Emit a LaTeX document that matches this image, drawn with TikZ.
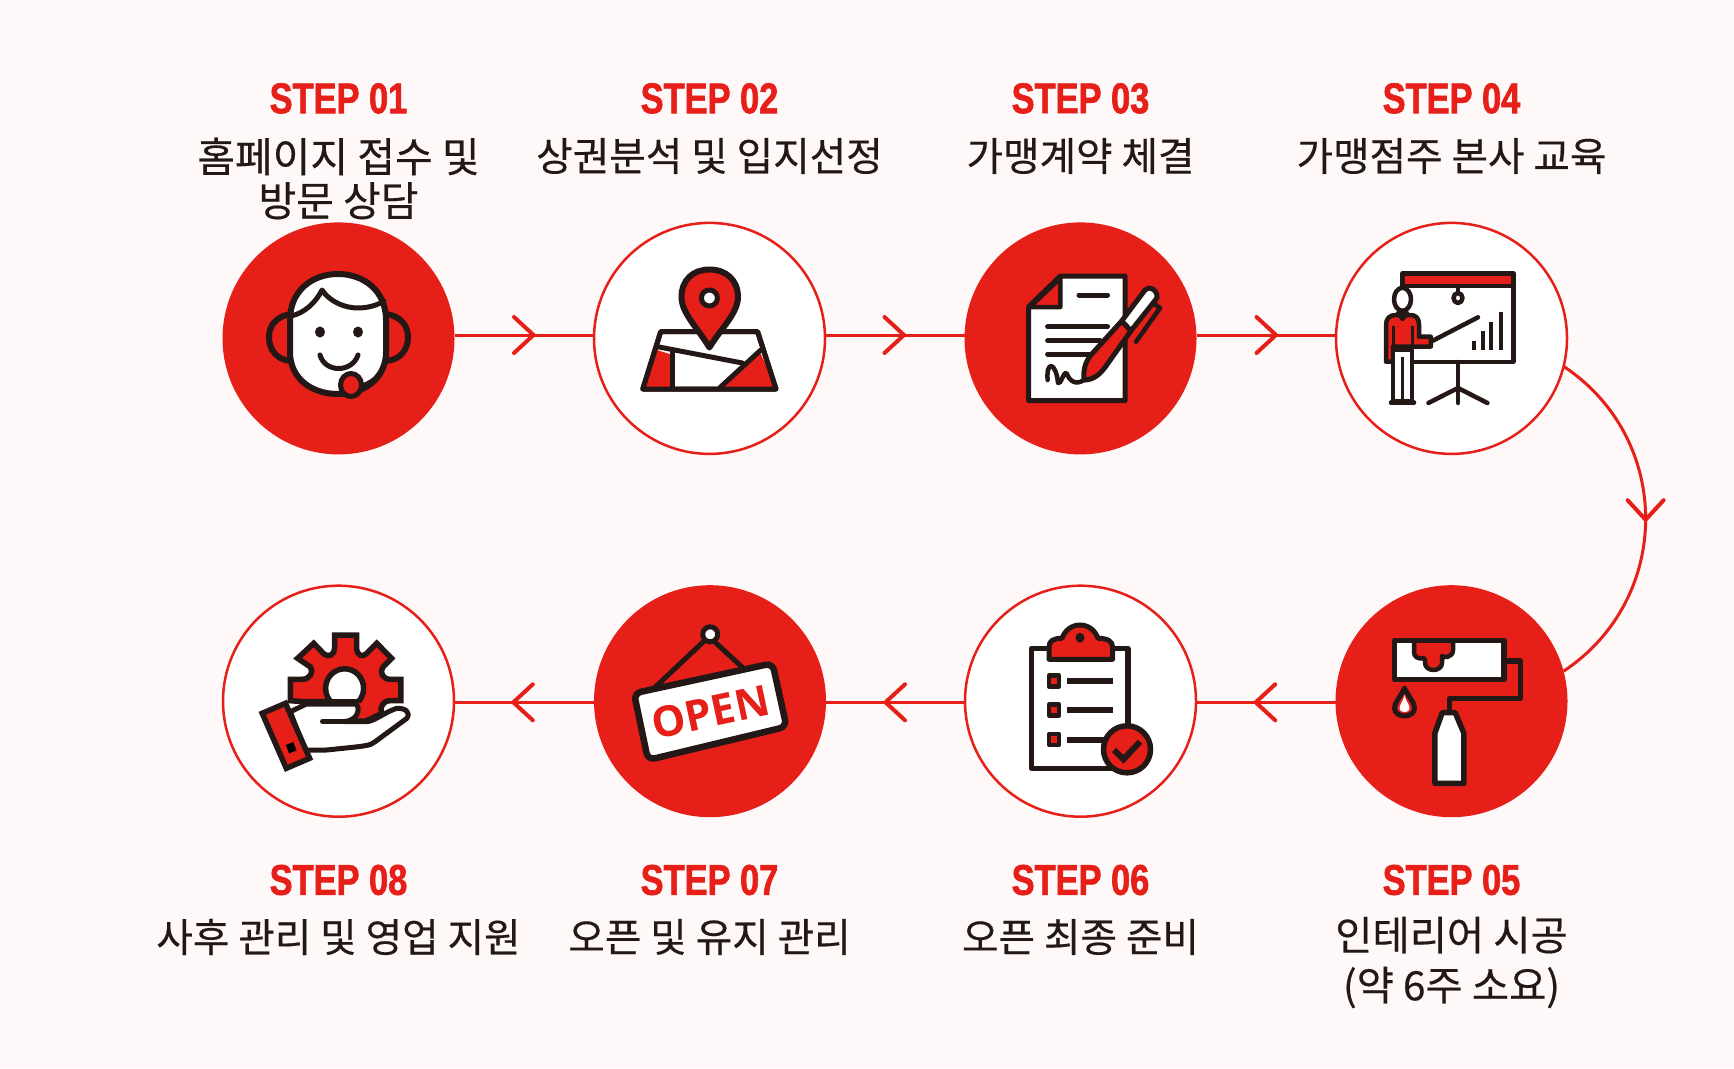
\documentclass[tikz,border=0pt]{standalone}
\usepackage{fontspec}
\newfontfamily\stepfont[FakeStretch=0.8,FakeBold=1.4]{Liberation Sans}
\newfontfamily\krfont{Noto Sans CJK KR}[FakeBold=0.45]
\newfontfamily\signfont{Open Sans}
\definecolor{brand}{HTML}{E61F19}
\definecolor{ink}{HTML}{231815}
\definecolor{paper}{HTML}{FFF8F8}
\tikzset{
  solid disc/.style={circle,fill=brand,inner sep=0pt,outer sep=0pt,minimum size=232pt},
  open disc/.style={circle,fill=white,draw=brand,line width=2.5pt,inner sep=0pt,outer sep=0pt,minimum size=231pt},
  steptitle/.style={text=brand,font=\stepfont\bfseries\fontsize{43}{43}\selectfont,inner sep=0pt},
  steptext/.style={text=ink,align=center,inner sep=0pt,font=\krfont\fontsize{39.7}{44}\selectfont},
  conn/.style={draw=brand,line width=3pt},
  ic/.style={draw=ink,line width=5pt,line join=round,line cap=round},
  thin ic/.style={draw=ink,line width=4.5pt,line join=round,line cap=round},
  pics/chevron/.style={code={\draw[draw=brand,line width=4pt,line cap=round,line join=miter] (-19.5,-18) -- (0,0) -- (-19.5,18);}}
}
\begin{document}
\begin{tikzpicture}[x=1pt,y=-1pt]
\useasboundingbox (0,0) rectangle (1734,1068);
\fill[paper] (0,0) rectangle (1734,1068);

% step discs
\node[solid disc] (s1) at (338.5,338.4) {};
\node[open disc]  (s2) at (709.5,338.4) {};
\node[solid disc] (s3) at (1080.5,338.4) {};
\node[open disc]  (s4) at (1451.5,338.4) {};
\node[solid disc] (s5) at (1451.5,701.2) {};
\node[open disc]  (s6) at (1080.5,701.2) {};
\node[solid disc] (s7) at (710,701.2) {};
\node[open disc]  (s8) at (338.5,701.2) {};

% arrowhead positions along the connectors
\coordinate (a1) at (533.5,335);
\coordinate (a2) at (904,335);
\coordinate (a3) at (1276,335);
\coordinate (a4) at (1645.6,519.7);
\coordinate (a5) at (1255.7,702.3);
\coordinate (a6) at (885.5,702.3);
\coordinate (a7) at (513.3,702.3);

% connectors
\draw[conn] (s1.east |- a1) -- (s2.west |- a1);
\draw[conn] (s2.east |- a2) -- (s3.west |- a2);
\draw[conn] (s3.east |- a3) -- (s4.west |- a3);
\draw[conn] (s4.-14) .. controls (1673.5,439.4) and (1672.5,599) .. (s5.15);
\draw[conn] (s5.west |- a5) -- (s6.east |- a5);
\draw[conn] (s6.west |- a6) -- (s7.east |- a6);
\draw[conn] (s7.west |- a7) -- (s8.east |- a7);

\pic at (a1) {chevron};
\pic at (a2) {chevron};
\pic at (a3) {chevron};
\pic[rotate=-90] at (a4) {chevron};
\pic[rotate=180] at (a5) {chevron};
\pic[rotate=180] at (a6) {chevron};
\pic[rotate=180] at (a7) {chevron};

% labels
\node[steptitle] (t1) at (338.5,98.4) {STEP 01};
\node[steptitle] (t2) at (709.5,98.4) {STEP 02};
\node[steptitle] (t3) at (1080.5,98.4) {STEP 03};
\node[steptitle] (t4) at (1451.5,98.4) {STEP 04};
\node[steptitle] (t5) at (1451.5,880) {STEP 05};
\node[steptitle] (t6) at (1080.5,880) {STEP 06};
\node[steptitle] (t7) at (709.5,880) {STEP 07};
\node[steptitle] (t8) at (338.5,880) {STEP 08};
\node[steptext,font=\krfont\fontsize{41}{44}\selectfont] (l1) at (338.5,178.5) {홈페이지 접수 및\\방문 상담};
\node[steptext] (l2) at (709.5,156) {상권분석 및 입지선정};
\node[steptext] (l3) at (1080.5,156) {가맹계약 체결};
\node[steptext] (l4) at (1451.5,156) {가맹점주 본사 교육};
\node[steptext,font=\krfont\fontsize{40.5}{50}\selectfont] (l5) at (1451.5,962.5) {인테리어 시공\\(약 6주 소요)};
\node[steptext] (l6) at (1080.5,937) {오픈 최종 준비};
\node[steptext] (l7) at (709.5,937) {오픈 및 유지 관리};
\node[steptext] (l8) at (338.5,937) {사후 관리 및 영업 지원};

% icon: call agent with headset
\draw[ic,line width=6pt,fill=brand] (291,314) .. controls (277,316) and (269,325) .. (269,337) .. controls (269,350) and (277,360) .. (291,361);
\draw[ic,line width=6pt,fill=brand] (386,314) .. controls (400,316) and (408,325) .. (408,337) .. controls (408,350) and (400,360) .. (386,361);
\draw[ic,line width=6pt,fill=white] (290,320) .. controls (290,291) and (312,274) .. (338,274) .. controls (364,274) and (386,291) .. (386,320) -- (386,352) .. controls (386,378) and (365,394) .. (338,394) .. controls (311,394) and (290,378) .. (290,352) -- cycle;
\draw[ic] (291,316) .. controls (305,313) and (316,302) .. (322,290) .. controls (330,302) and (345,308) .. (358,308) .. controls (368,308) and (378,305) .. (384,301);
\fill[ink] (320,332) ellipse (5pt and 5.5pt);
\fill[ink] (358,332) ellipse (5pt and 5.5pt);
\draw[ic] (320,355) .. controls (325,373) and (352,373) .. (358,355);
\draw[thin ic] (351,387) .. controls (368,387) and (379,378) .. (383,366);
\draw[ic,fill=brand] (351,385) ellipse (10.5pt and 11.5pt);

% icon: map with location pin
\draw[ic,fill=white] (660.7,331.7) -- (757.6,331.7) -- (776,389) -- (642.8,389) -- cycle;
\fill[brand] (657,350) -- (672.7,355) -- (672.7,389) -- (643,389) -- cycle;
\fill[brand] (760,352) -- (776,389) -- (719.5,389) -- cycle;
\draw[ic] (657.5,346.7) -- (742.4,363);
\draw[ic] (672.7,353) -- (672.7,389);
\draw[ic] (760.8,350) -- (719.5,388);
\draw[ic] (660.7,331.7) -- (757.6,331.7) -- (776,389) -- (642.8,389) -- cycle;
\draw[ic,line width=6pt,fill=brand] (709.4,347.5) .. controls (697,327) and (681.5,313) .. (681.5,297) .. controls (681.5,280) and (693,269.5) .. (709.4,269.5) .. controls (726,269.5) and (738,280) .. (738,297) .. controls (738,313) and (722,327) .. (709.4,347.5) -- cycle;
\draw[ic,fill=white] (709.4,298) circle (8pt);

% icon: contract and pen
\draw[ic,fill=white] (1060.3,276) -- (1125,276) -- (1125,400.7) -- (1028.7,400.7) -- (1028.7,306.7) -- cycle;
\draw[ic,fill=brand,line width=4.5pt] (1060.3,278) -- (1060.3,307) -- (1030,307) -- cycle;
\draw[ic] (1079,295) -- (1107.5,295);
\draw[ic] (1047.6,326.7) -- (1107.5,326.7);
\draw[ic] (1047.6,340.7) -- (1100,340.7);
\draw[ic] (1047.6,354) -- (1091,354);
\draw[thin ic] (1047.6,380) .. controls (1046,360) and (1056,362) .. (1058,383) .. controls (1061,385) and (1063,372) .. (1066.5,373) .. controls (1069,380) and (1075,386) .. (1084,380);
\draw[ic,fill=brand] (1084,380) .. controls (1083,368) and (1086,362) .. (1090,356) -- (1121.7,321) -- (1131,330.7) -- (1106,366) .. controls (1099,376) and (1092,380) .. (1084,380) -- cycle;
\draw[ic,fill=white] (1121.7,321) -- (1145,290) .. controls (1149,285) and (1158,290) .. (1157,298) -- (1131,330.7) -- cycle;
\draw[thin ic] (1136,341.7) -- (1160,308);
\draw[thin ic] (1153,303) -- (1160,308);

% icon: presenter at a board
\fill[brand] (1402.5,273.3) rectangle (1513.4,286);
\draw[thin ic] (1402.5,361.7) -- (1402.5,273.3) -- (1513.4,273.3) -- (1513.4,361.7) -- cycle;
\fill[white] (1404.7,288) rectangle (1511.2,359.5);
\draw[thin ic] (1402.5,286) -- (1513.4,286);
\draw[thin ic] (1458,287) -- (1458,292);
\draw[thin ic,fill=white] (1458,298) ellipse (4.5pt and 5pt);
\draw[thin ic] (1458,362) -- (1458,403);
\draw[thin ic] (1428.4,403) -- (1458,388) -- (1487.4,403);
\foreach \bx/\by in {1474/340.7,1482.7/330.7,1491/321.7,1500.6/311.7}
  \draw[draw=ink,line width=4pt] (\bx,\by) -- (\bx,350);
\draw[thin ic] (1430.8,341.7) -- (1478,317.3);
\draw[thin ic,fill=brand] (1386,361.7) -- (1386,325) .. controls (1386,318) and (1390,315) .. (1396,315) -- (1410,315) .. controls (1416,315) and (1419,318) .. (1419,325) -- (1419,336.7) -- (1430.8,336.7) -- (1430.8,346.5) -- (1393,346.5) -- (1393,361.7) -- cycle;
\draw[thin ic,fill=white] (1393,350) rectangle (1412,401.7);
\draw[draw=ink,line width=3pt] (1393,326) -- (1393,350);
\draw[draw=ink,line width=3pt] (1412,326) -- (1412,346);
\draw[draw=ink,line width=3pt] (1402.5,356.7) -- (1402.5,401.7);
\draw[thin ic] (1391,402.7) -- (1414,402.7);
\draw[thin ic,fill=white] (1402.5,299.3) ellipse (8.5pt and 11.5pt);
\draw[thin ic,fill=white] (1398,313) -- (1407,313) -- (1402.5,319) -- cycle;

% icon: paint roller
\draw[ic,line width=5.5pt,fill=white] (1394.5,640.7) rectangle (1504.2,679.3);
\draw[ic,fill=brand,line width=4.5pt] (1414,643) -- (1414,652) .. controls (1414,657) and (1418,659) .. (1423,658.3) .. controls (1425,658) and (1425,658) .. (1425,663) .. controls (1425,667) and (1429,670) .. (1433.5,670) .. controls (1438,670) and (1442,667) .. (1442,663) -- (1442,656) .. controls (1443,658) and (1453,658) .. (1453,650) -- (1453,643);
\draw[ic,line width=5.5pt,fill=none] (1504,661) -- (1520.3,661) -- (1520.3,698.3) -- (1449.5,698.3) -- (1449.5,711.7);
\draw[ic,line width=5.5pt,fill=white] (1442.2,712.7) -- (1455.2,712.7) -- (1463.9,733.3) -- (1463.9,783.3) -- (1434.8,783.3) -- (1434.8,733.3) -- cycle;
\draw[ic,fill=none] (1404.5,688) .. controls (1400,698) and (1394.5,702) .. (1394.5,708) .. controls (1394.5,713) and (1399,716) .. (1404.5,716) .. controls (1410,716) and (1414.5,713) .. (1414.5,708) .. controls (1414.5,702) and (1409,698) .. (1404.5,688) -- cycle;
\fill[white] (1404.5,695) .. controls (1403,702) and (1399,705) .. (1399.5,709) .. controls (1400,713) and (1409,713) .. (1409.5,709) .. controls (1410,705) and (1406,702) .. (1404.5,695) -- cycle;

% icon: checklist on a clipboard
\draw[ic,fill=white,line width=5.5pt] (1048,648.3) -- (1031.5,648.3) -- (1031.5,768.3) -- (1127.8,768.3) -- (1127.8,648.3) -- (1112,648.3);
\draw[ic,fill=brand] (1049,647) .. controls (1049,641) and (1053,638.3) .. (1062,638.3) .. controls (1065,630) and (1072,625) .. (1080,625) .. controls (1088,625) and (1095,630) .. (1098,638.3) .. controls (1107,638.3) and (1112.6,641) .. (1112.6,647) -- (1112.6,659.3) -- (1049,659.3) -- cycle;
\fill[ink] (1080,637.7) ellipse (4.5pt and 5pt);
\foreach \cy in {681,710,739.3}
  \draw[ic,fill=brand,line width=4.5pt] (1049,\cy-5.5) rectangle (1059,\cy+5.5);
\draw[draw=ink,line width=6pt] (1067,681) -- (1112.6,681);
\draw[draw=ink,line width=6pt] (1067,710) -- (1112.6,710);
\draw[draw=ink,line width=6pt] (1067,740) -- (1108,740);
\draw[ic,fill=brand,line width=5.5pt] (1127,749.3) circle (23.5pt);
\draw[draw=ink,line width=6pt,line join=miter] (1114,750) -- (1123.5,759.3) -- (1140,741.7);

% icon: hanging open sign
\draw[ic] (703.4,641.7) -- (654,688.3);
\draw[ic] (716.2,643.3) -- (742.4,667.3);
\draw[ic,fill=white] (710.2,634.3) circle (7.5pt);
\draw[draw=ink,line width=6.5pt,fill=white,rounded corners=7pt] (634,693.3) -- (772.5,663.3) -- (786.5,726.7) -- (648,760) -- cycle;
\node[text=brand,rotate=12,inner sep=0pt,font=\signfont\bfseries\fontsize{42.5}{45}\selectfont] (sign) at (710.5,712) {OPEN};

% icon: hand holding a gear
\draw[ic,line width=5.5pt,fill=brand,line join=miter] (334.5,635) -- (356.6,635) -- (356.6,648.3) .. controls (357,656) and (363,657) .. (366,654) -- (376.7,643.3) -- (391.6,658.3) -- (383,667) .. controls (379,672) and (383,679.3) .. (390,679.3) -- (400.8,679.3) -- (400.8,700.7) -- (390,700.7) .. controls (383,700.7) and (379,708) .. (382,713.3) -- (366,721) -- (354.6,721) -- (354.6,701.7) -- (304.4,701.7) -- (290.4,700.7) -- (290.4,679.3) -- (302,679.3) .. controls (310,679.3) and (314,672) .. (310.4,667) -- (297.6,658.3) -- (313.7,643.3) -- (324,654) .. controls (328,657) and (334,656) .. (334.5,648.3) -- cycle;
\begin{scope}
  \clip (320,660) rectangle (370,702);
  \draw[ic,line width=5.5pt,fill=white] (344.6,688.3) ellipse (19pt and 19.5pt);
\end{scope}
\draw[ic,line width=4.5pt] (322,701) -- (360,701);
\draw[ic,line width=5pt,fill=white] (290.4,711.7) -- (306.4,704) -- (354.6,704) .. controls (360,704) and (361,720) .. (344.6,721.5) -- (366.7,721.7) .. controls (375,721) and (385,712) .. (396.8,708.3) .. controls (405,708) and (411,712) .. (406.9,718.3) -- (374.7,742) .. controls (370,746) and (365,746) .. (326.5,750) -- (304.4,750) -- cycle;
\draw[ic,line width=5pt] (322.5,721.5) -- (344.6,721.5);
\draw[ic,line width=5.5pt,fill=brand,line join=miter] (262.2,713.3) -- (285.5,703.3) -- (309.6,758.3) -- (286.3,768.3) -- cycle;
\fill[black,rotate around={22:(291.2,747.7)}] (287.2,743.2) rectangle (295.2,752.2);
\end{tikzpicture}
\end{document}
